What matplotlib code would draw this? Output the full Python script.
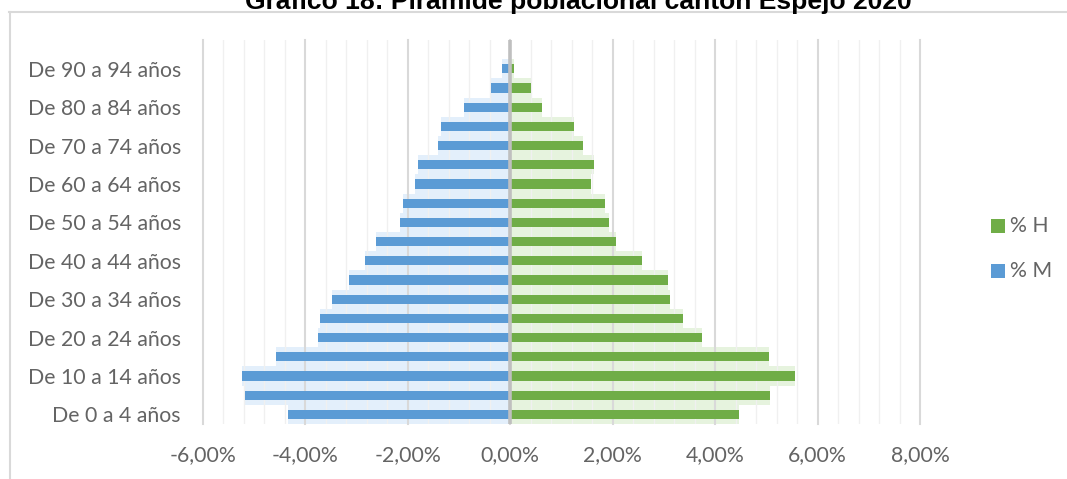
import matplotlib
matplotlib.use('Agg')
import matplotlib.pyplot as plt
from matplotlib.ticker import MultipleLocator, FuncFormatter, FixedLocator
from matplotlib.lines import Line2D
from matplotlib.patches import Rectangle
from matplotlib import font_manager

# ---------------- data ----------------
age_groups = ['De 0 a 4 años', 'De 5 a 9 años', 'De 10 a 14 años', 'De 15 a 19 años',
              'De 20 a 24 años', 'De 25 a 29 años', 'De 30 a 34 años', 'De 35 a 39 años',
              'De 40 a 44 años', 'De 45 a 49 años', 'De 50 a 54 años', 'De 55 a 59 años',
              'De 60 a 64 años', 'De 65 a 69 años', 'De 70 a 74 años', 'De 75 a 79 años',
              'De 80 a 84 años', 'De 85 a 89 años', 'De 90 a 94 años', 'De 95 y más años']
pct_h = [4.47, 5.08, 5.56, 5.06, 3.75, 3.38, 3.12, 3.07, 2.57, 2.07,
         1.93, 1.85, 1.58, 1.63, 1.42, 1.24, 0.62, 0.41, 0.07, 0.0]
pct_m = [4.35, 5.18, 5.24, 4.58, 3.76, 3.71, 3.49, 3.14, 2.83, 2.62,
         2.16, 2.09, 1.87, 1.80, 1.42, 1.35, 0.90, 0.37, 0.16, 0.0]
series_labels = ['% H', '% M']
title = 'Gráfico 18: Pirámide poblacional cantón Espejo 2020'

GREEN = '#70AD47'
BLUE = '#5B9BD5'
TXT = '#646464'

names = {f.name for f in font_manager.fontManager.ttflist}
lab_font = 'Lato' if 'Lato' in names else 'DejaVu Sans'
title_font = 'Liberation Sans'
FS = 15.3

W, H = 1067, 479
fig = plt.figure(figsize=(W / 100, H / 100), dpi=100)
fig.patch.set_facecolor('white')

ax = fig.add_axes([203 / W, 1 - 424 / H, (920 - 203) / W, (424 - 40) / H])
ax.set_facecolor('none')

y = list(range(len(age_groups)))
neg_m = [-v for v in pct_m]

# glow behind bars
ax.barh(y, neg_m, height=1.0, color='#E3EFFB', zorder=0.2, linewidth=0)
ax.barh(y, pct_h, height=1.0, color='#E6F3DE', zorder=0.2, linewidth=0)
# bars
ax.barh(y, neg_m, height=0.48, color=BLUE, zorder=2, linewidth=0)
ax.barh(y, pct_h, height=0.48, color=GREEN, zorder=2, linewidth=0)

ax.set_xlim(-6, 8)
ax.set_ylim(-0.5, len(age_groups) - 0.5)

ax.set_axisbelow(True)
ax.xaxis.set_major_locator(MultipleLocator(2))
ax.xaxis.set_minor_locator(MultipleLocator(0.4))
ax.xaxis.set_major_formatter(FuncFormatter(lambda v, p: ('%.2f' % v).replace('.', ',') + '%'))
ax.grid(True, which='major', axis='x', color='#D9D9D9', lw=1.5, clip_on=False)
ax.grid(True, which='minor', axis='x', color='#F0F0F0', lw=1.0)

ax.axvline(0, color='#BFBFBF', lw=2.6, zorder=4)

ax.yaxis.set_major_locator(FixedLocator(y[::2]))
ax.set_yticklabels(age_groups[::2])

for s in ax.spines.values():
    s.set_visible(False)
ax.tick_params(axis='both', which='both', length=0)
ax.tick_params(axis='y', pad=16, labelsize=FS, labelcolor=TXT)
ax.tick_params(axis='x', pad=15, labelsize=FS, labelcolor=TXT)
for t in ax.get_xticklabels() + ax.get_yticklabels():
    t.set_fontfamily(lab_font)

# chart border (cropped on right/bottom)
fig.add_artist(Line2D([9 / W, 1.0], [1 - 11.5 / H, 1 - 11.5 / H], color='#D9D9D9', lw=1.5))
fig.add_artist(Line2D([10 / W, 10 / W], [1 - 11.5 / H, 0.0], color='#D9D9D9', lw=1.5))

# title (top cropped as in the reference)
ttl = fig.text(578.5 / W, 1 - 8.5 / H, title, ha='center', va='baseline',
               fontfamily=title_font, fontweight='bold', fontsize=19, color='#000000')
r = fig.canvas.get_renderer()
w = ttl.get_window_extent(renderer=r).width
ttl.set_fontsize(19 * 667 / w)

# legend
colors = [GREEN, BLUE]
ys = [226, 271]
for lab, c, yy in zip(series_labels, colors, ys):
    fig.add_artist(Rectangle((991 / W, 1 - (yy + 7) / H), 14 / W, 14 / H,
                             transform=fig.transFigure, color=c, lw=0))
    fig.text(1010 / W, 1 - yy / H, lab, ha='left', va='center',
             fontfamily=lab_font, fontsize=FS, color=TXT)

fig.savefig('out.png', dpi=100, facecolor='white')
